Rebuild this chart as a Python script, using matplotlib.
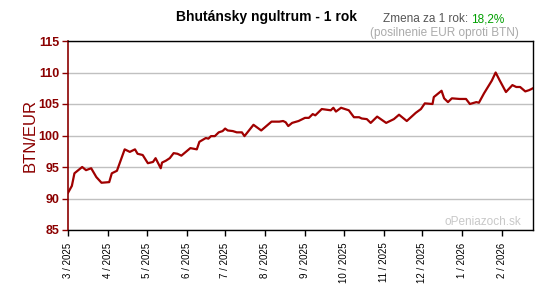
import matplotlib
matplotlib.use('Agg')
from matplotlib import pyplot as plt
from datetime import date

# values
dates = ['2025-03-01', '2025-03-04', '2025-03-06', '2025-03-12', '2025-03-15', '2025-03-19',
         '2025-03-23', '2025-03-27', '2025-04-02', '2025-04-04', '2025-04-08', '2025-04-14',
         '2025-04-18', '2025-04-22', '2025-04-24', '2025-04-28', '2025-05-02', '2025-05-06',
         '2025-05-08', '2025-05-12', '2025-05-13', '2025-05-16', '2025-05-19', '2025-05-22',
         '2025-05-25', '2025-05-28', '2025-06-04', '2025-06-09', '2025-06-11', '2025-06-16',
         '2025-06-18', '2025-06-20', '2025-06-23', '2025-06-26', '2025-06-29', '2025-07-01',
         '2025-07-03', '2025-07-07', '2025-07-10', '2025-07-14', '2025-07-16', '2025-07-23',
         '2025-07-29', '2025-08-06', '2025-08-12', '2025-08-15', '2025-08-17', '2025-08-19',
         '2025-08-22', '2025-08-27', '2025-09-01', '2025-09-04', '2025-09-07', '2025-09-09',
         '2025-09-14', '2025-09-21', '2025-09-23', '2025-09-25', '2025-09-29', '2025-10-05',
         '2025-10-09', '2025-10-13', '2025-10-15', '2025-10-19', '2025-10-22', '2025-10-27',
         '2025-11-03', '2025-11-09', '2025-11-13', '2025-11-19', '2025-11-26', '2025-11-30',
         '2025-12-03', '2025-12-09', '2025-12-10', '2025-12-16', '2025-12-18', '2025-12-21',
         '2025-12-24', '2025-12-30', '2026-01-04', '2026-01-07', '2026-01-12', '2026-01-14',
         '2026-01-18', '2026-01-24', '2026-01-27', '2026-01-30', '2026-02-04', '2026-02-09',
         '2026-02-12', '2026-02-15', '2026-02-19', '2026-02-22', '2026-02-25']
rates = [90.9, 92.0, 94.0, 95.0, 94.5, 94.8,
         93.4, 92.5, 92.6, 94.0, 94.4, 97.8,
         97.4, 97.8, 97.1, 96.9, 95.6, 95.8,
         96.4, 94.8, 95.7, 96.0, 96.4, 97.2,
         97.1, 96.8, 98.0, 97.8, 99.0, 99.6,
         99.5, 99.9, 99.9, 100.5, 100.7, 101.1,
         100.8, 100.7, 100.5, 100.5, 99.9, 101.7,
         100.8, 102.2, 102.2, 102.3, 102.1, 101.5,
         102.0, 102.3, 102.8, 102.8, 103.4, 103.2,
         104.2, 104.0, 104.4, 103.8, 104.4, 104.0,
         102.9, 102.9, 102.7, 102.6, 102.0, 103.0,
         102.0, 102.6, 103.3, 102.3, 103.6, 104.2,
         105.1, 105.0, 106.1, 107.1, 105.9, 105.3,
         105.9, 105.8, 105.8, 105.0, 105.3, 105.2,
         106.7, 108.7, 110.0, 108.8, 106.9, 108.0,
         107.7, 107.7, 107.0, 107.2, 107.5]
yticks = [85, 90, 95, 100, 105, 110, 115]
month_ticks = [(2025, m) for m in range(3, 13)] + [(2026, 1), (2026, 2)]

dred = '#8b0000'
x = [date.fromisoformat(d) for d in dates]

plt.rcParams['font.family'] = ['Liberation Sans', 'DejaVu Sans']
fig = plt.figure(figsize=(5.59, 2.84), dpi=100)
ax = fig.add_axes([68 / 559, 1 - 230 / 284, 465 / 559, 189 / 284])

ax.plot(x, rates, color='#a00000', lw=1.6, solid_joinstyle='round')
ax.set_xlim(date(2025, 3, 1), date(2026, 2, 25))
ax.set_ylim(85, 115)
ax.set_yticks(yticks)
ax.set_yticklabels([str(v) for v in yticks], color=dred, fontweight='bold', fontsize=9)
ax.yaxis.grid(True, color='#c0c0c0', lw=1)
ax.set_axisbelow(True)

xt = [date(y, m, 1) for y, m in month_ticks]
ax.set_xticks(xt)
ax.set_xticklabels(['%d / %d' % (m, y) for y, m in month_ticks], rotation=90, fontsize=7)

ax.spines['left'].set_color(dred)
ax.spines['left'].set_linewidth(1.2)
for s in ['top', 'right', 'bottom']:
    ax.spines[s].set_color('black')
    ax.spines[s].set_linewidth(1)
ax.tick_params(axis='y', colors=dred, length=4, width=1, pad=2)
ax.tick_params(axis='x', colors='black', length=4, width=1, pad=5)

ax.set_ylabel('BTN/EUR', color=dred, fontsize=12, labelpad=1)

fig.text(266 / 559, 1 - 17 / 284, 'Bhutánsky ngultrum - 1 rok', ha='center', va='center',
         fontsize=10, fontweight='bold')
fig.text(471 / 559, 1 - 19 / 284, 'Zmena za 1 rok: ', ha='right', va='center',
         fontsize=8.5, color='#555555')
fig.text(471 / 559, 1 - 19 / 284, '18,2%', ha='left', va='center',
         fontsize=8.5, color='#00a000')
fig.text(519 / 559, 1 - 33 / 284, '(posilnenie EUR oproti BTN)', ha='right', va='center',
         fontsize=8.5, color='#aaaaaa')
fig.text(483 / 559, 1 - 222 / 284, 'oPeniazoch.sk', ha='center', va='center',
         fontsize=8.5, color='#c8c8c8')

fig.savefig('out.png', dpi=100)
